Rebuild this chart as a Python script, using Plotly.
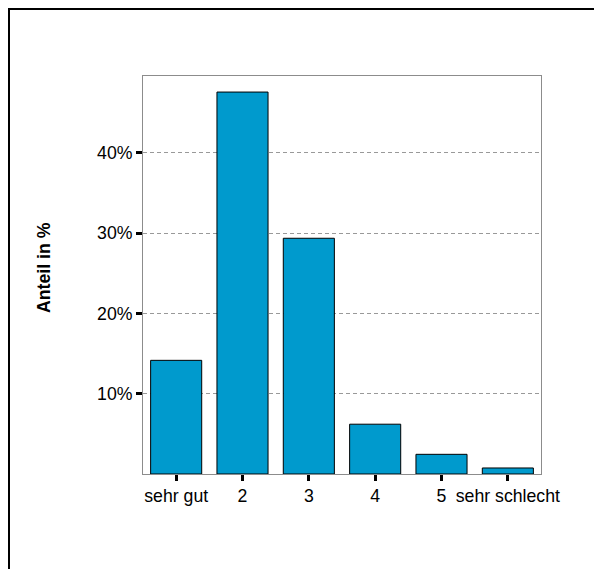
import plotly.graph_objects as go

categories = ["sehr gut", "2", "3", "4", "5", "sehr schlecht"]
shares = [14.15, 47.55, 29.35, 6.2, 2.45, 0.75]
y_tickvals = [10, 20, 30, 40]
y_ticktext = ["10%", "20%", "30%", "40%"]

# page has an 8px body margin, so figure is 8px smaller than the window
W, H = 594, 561
L, R, T, B = 135, 61, 68, 95
pw, ph = W - L - R, H - T - B

def px_x(p):
    return (p - L) / pw

def px_y(p):
    return (H - B - p) / ph

fig = go.Figure(go.Bar(
    x=categories, y=shares,
    marker=dict(color="#009ACD", line=dict(color="black", width=1)),
    width=0.77,
))

font = dict(family="Liberation Sans, Arial, sans-serif", size=17.7, color="black")

fig.update_layout(
    width=W, height=H,
    margin=dict(l=L, r=R, t=T, b=B, pad=0),
    paper_bgcolor="white", plot_bgcolor="white",
    font=font, showlegend=False,
    xaxis=dict(
        range=[-0.5, 5.5], showgrid=False, showline=True, linecolor="#8c8c8c",
        linewidth=1, mirror=True, ticks="outside", ticklen=6, tickwidth=3,
        tickcolor="black", tickfont=font, fixedrange=True,
    ),
    yaxis=dict(
        range=[0, 49.55], tickvals=y_tickvals, ticktext=y_ticktext,
        showgrid=True, gridcolor="#999999", griddash="4px,3px", gridwidth=1,
        zeroline=False, showline=True, linecolor="#8c8c8c", linewidth=1,
        mirror=True, ticks="outside", ticklen=6, tickwidth=3, tickcolor="black",
        tickfont=font, fixedrange=True,
    ),
    annotations=[dict(
        text="<b>Anteil in %</b>", textangle=-90, showarrow=False,
        xref="paper", yref="paper", x=px_x(36), y=px_y(260),
        xanchor="center", yanchor="middle", font=font,
    )],
    shapes=[
        dict(type="line", xref="paper", yref="paper", x0=px_x(0), x1=px_x(W + 1),
             y0=px_y(1), y1=px_y(1), line=dict(color="black", width=2), layer="above"),
        dict(type="line", xref="paper", yref="paper", x0=px_x(1), x1=px_x(1),
             y0=px_y(0), y1=px_y(H + 1), line=dict(color="black", width=2), layer="above"),
    ],
)

fig.write_html("out.html")
